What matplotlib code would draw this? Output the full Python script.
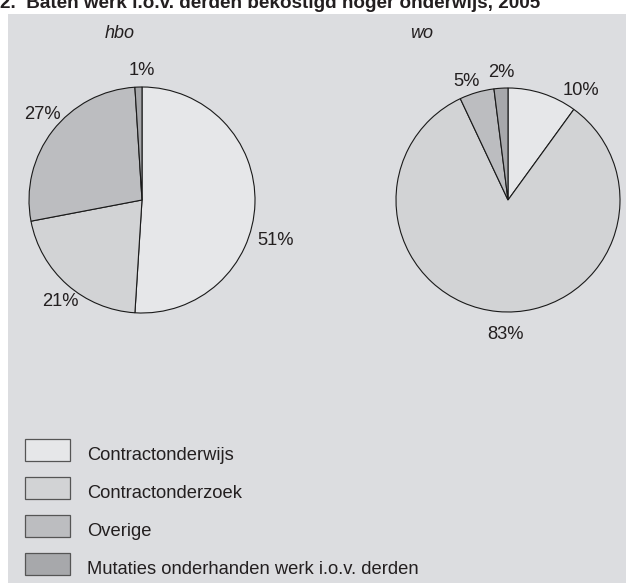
import matplotlib.pyplot as plt
from matplotlib.patches import Rectangle

plt.rcParams['font.family'] = ['Liberation Sans', 'DejaVu Sans']

# data
categories = ['Contractonderwijs', 'Contractonderzoek', 'Overige',
              'Mutaties onderhanden werk i.o.v. derden']
hbo = [51, 21, 27, 1]
wo = [10, 83, 5, 2]
colors = ['#e6e7e9', '#d2d3d5', '#bcbdc0', '#a7a8ab']
txt = '#231f20'

W, H = 626, 583
fig = plt.figure(figsize=(W / 100, H / 100), dpi=100)

# full-figure overlay in pixel coords
bg = fig.add_axes([0, 0, 1, 1])
bg.set_xlim(0, W)
bg.set_ylim(H, 0)
bg.axis('off')
bg.add_patch(Rectangle((8, 14), W, H, facecolor='#dcdde0', edgecolor='none'))
bg.text(0, 8, '2.  Baten werk i.o.v. derden bekostigd hoger onderwijs, 2005',
        fontsize=13.6, fontweight='bold', color=txt, va='baseline', ha='left')
bg.text(120, 34, 'hbo', fontsize=13, style='italic', color=txt, ha='center', va='center')
bg.text(422, 34, 'wo', fontsize=13, style='italic', color=txt, ha='center', va='center')

# legend
for i, (name, c) in enumerate(zip(categories, colors)):
    top = 439 + i * 38
    bg.add_patch(Rectangle((25, top), 45, 22, facecolor=c, edgecolor='#555555', lw=0.9))
    bg.text(87, top + 16, name, fontsize=13.2, color=txt, va='center', ha='left')

# label positions (in pie radii, relative to centre)
hbo_pos = [(1.18, -0.36), (-0.72, -0.90), (-0.88, 0.76), (0.0, 1.15)]
wo_pos = [(0.65, 0.98), (-0.02, -1.20), (-0.37, 1.06), (-0.06, 1.14)]


def draw_pie(cx, cy, r, vals, pos):
    ax = fig.add_axes([(cx - r) / W, (H - cy - r) / H, 2 * r / W, 2 * r / H])
    ax.pie(vals, colors=colors, startangle=90, counterclock=False,
           wedgeprops=dict(edgecolor='#1a1a1a', linewidth=0.8))
    ax.set_xlim(-1, 1)
    ax.set_ylim(-1, 1)
    ax.set_aspect('auto')
    for v, (px, py) in zip(vals, pos):
        ax.text(px, py, f'{v}%', fontsize=13.2, color=txt, ha='center', va='center',
                clip_on=False)


draw_pie(142, 200, 113, hbo, hbo_pos)
draw_pie(508, 200, 112, wo, wo_pos)

fig.savefig('out.png', dpi=100)
